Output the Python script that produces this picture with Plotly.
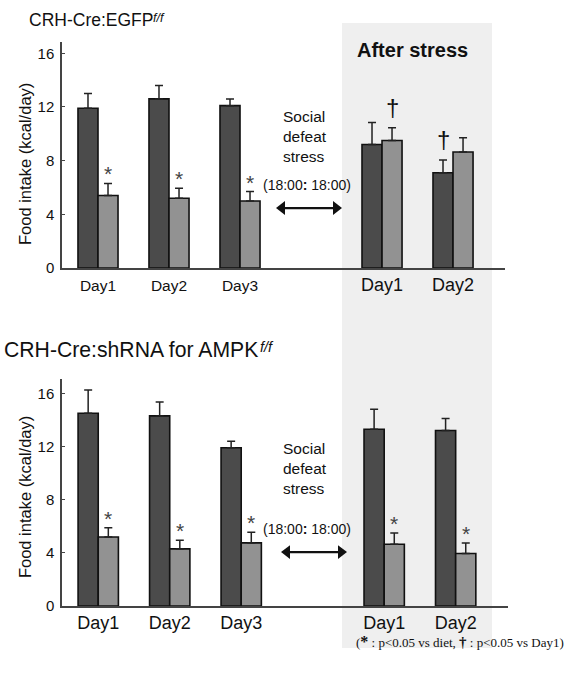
import plotly.graph_objects as go

W, H = 568, 676
VK = 0.988   # vertical calibration of the page renderer

# ---------------- data ----------------
day_labels = ["Day1", "Day2", "Day3", "Day1", "Day2"]
slots = [0, 1, 2, 4, 5]          # slot 3 = social defeat stress period (no bars)

egfp_diet = [11.9, 12.6, 12.1, 9.2, 7.1]
egfp_diet_err = [1.1, 1.0, 0.5, 1.65, 0.95]
egfp_hfd = [5.4, 5.2, 5.0, 9.5, 8.65]
egfp_hfd_err = [0.9, 0.75, 0.7, 0.95, 1.05]
egfp_diet_mark = ["", "", "", "", "†"]
egfp_hfd_mark = ["*", "*", "*", "†", ""]

ampk_diet = [14.5, 14.3, 11.9, 13.3, 13.2]
ampk_diet_err = [1.75, 1.05, 0.5, 1.5, 0.9]
ampk_hfd = [5.2, 4.3, 4.75, 4.65, 3.95]
ampk_hfd_err = [0.7, 0.65, 0.8, 0.85, 0.8]
ampk_diet_mark = ["", "", "", "", ""]
ampk_hfd_mark = ["*", "*", "*", "*", "*"]

y_ticks = [0, 4, 8, 12, 16]

DARK = "#4b4b4b"
LIGHT = "#929292"
FONT = "Liberation Sans"


def px(x):
    return x / W


def py(y):
    return 1 - (y / VK) / H


fig = go.Figure()

BW = 0.282
panels = [
    ("x", "y", egfp_diet, egfp_diet_err, egfp_hfd, egfp_hfd_err, egfp_diet_mark, egfp_hfd_mark),
    ("x2", "y2", ampk_diet, ampk_diet_err, ampk_hfd, ampk_hfd_err, ampk_diet_mark, ampk_hfd_mark),
]

annotations = []
for xa, ya, d, de, h, he, dm, hm in panels:
    for vals, errs, col, off, marks, shift in [
        (d, de, DARK, -BW, dm, -10),
        (h, he, LIGHT, 0, hm, 10),
    ]:
        fig.add_trace(go.Bar(
            x=slots, y=vals, width=BW, offset=off, xaxis=xa, yaxis=ya,
            marker=dict(color=col, line=dict(color="#111111", width=1.6)),
            error_y=dict(type="data", array=errs, arrayminus=[0] * len(errs),
                         symmetric=False, color="#222222", thickness=1.5, width=4),
            showlegend=False, hoverinfo="skip",
        ))
        for s, v, e, m in zip(slots, vals, errs, marks):
            if m:
                star = m == "*"
                annotations.append(dict(
                    x=s, y=v + e, xref=xa, yref=ya, xshift=shift,
                    yshift=-4 if star else 5, yanchor="bottom", text=m, showarrow=False,
                    font=dict(family=FONT, size=21 if star else 24,
                              color="#444444" if star else "#111111"),
                ))

# top panel: pre-stress day labels are set smaller/condensed in the original figure
top_ticktext = [f"<span style='font-size:15.5px'>{t}</span>" if i < 3 else t
                for i, t in enumerate(day_labels)]

xaxis_common = dict(
    range=[-0.507, 5.732], tickmode="array", tickvals=slots,
    showline=True, linecolor="#444444", linewidth=1.5, ticks="",
    showgrid=False, zeroline=False,
)
yaxis_common = dict(
    tickmode="array", tickvals=y_ticks, showline=True, linecolor="#444444",
    linewidth=1.5, ticks="inside", ticklen=3, tickcolor="#444444",
    showgrid=False, zeroline=False, ticklabelstandoff=3,
    tickfont=dict(family=FONT, size=15, color="#111111"),
)

fig.update_layout(
    width=W, height=H, margin=dict(l=0, r=0, t=0, b=0),
    paper_bgcolor="white", plot_bgcolor="rgba(0,0,0,0)",
    xaxis=dict(domain=[px(62), px(505)], anchor="y", ticktext=top_ticktext,
               tickfont=dict(family=FONT, size=18, color="#111111"), **xaxis_common),
    yaxis=dict(domain=[py(268), py(42)], range=[0, 16.84], anchor="x", **yaxis_common),
    xaxis2=dict(domain=[px(62), px(508)], anchor="y2", ticktext=day_labels,
                tickfont=dict(family=FONT, size=18, color="#111111"), **xaxis_common),
    yaxis2=dict(domain=[py(606), py(379)], range=[0, 17.07], anchor="x2", **yaxis_common),
    # overlay axes in pixel units for the double-headed arrows
    xaxis3=dict(domain=[0, 1], range=[0, W], visible=False, fixedrange=True),
    yaxis3=dict(domain=[0, 1], range=[H * VK, 0], visible=False, fixedrange=True, anchor="x3"),
    shapes=[dict(type="rect", xref="paper", yref="paper",
                 x0=px(342), x1=px(492), y0=py(648), y1=py(23),
                 fillcolor="#efefef", line=dict(width=0), layer="below")],
)

# double-headed arrows (social defeat stress period)
for yarr, xa0, xa1 in [(208, 276, 342), (552, 281, 347)]:
    fig.add_trace(go.Scatter(
        x=[xa0 + 5, xa1 - 5], y=[yarr, yarr], xaxis="x3", yaxis="y3", mode="lines",
        line=dict(color="#111111", width=2.2), showlegend=False, hoverinfo="skip"))
    fig.add_trace(go.Scatter(
        x=[xa0 + 6, xa1 - 6], y=[yarr, yarr], xaxis="x3", yaxis="y3", mode="markers",
        marker=dict(symbol=["triangle-left", "triangle-right"], size=12, color="#111111",
                    line=dict(width=0)),
        showlegend=False, hoverinfo="skip"))

# titles and texts
annotations += [
    dict(x=px(28), y=py(20), xref="paper", yref="paper", xanchor="left", yanchor="middle",
         text="CRH-Cre:EGFP", showarrow=False, borderpad=0,
         font=dict(family=FONT, size=17.5, color="#111111")),
    dict(x=px(152), y=py(18), xref="paper", yref="paper", xanchor="left", yanchor="middle",
         text="<i>f/f</i>", showarrow=False, borderpad=0,
         font=dict(family=FONT, size=12.5, color="#111111")),
    dict(x=px(3), y=py(349), xref="paper", yref="paper", xanchor="left", yanchor="middle",
         text="CRH-Cre:shRNA for AMPK", showarrow=False, borderpad=0,
         font=dict(family=FONT, size=21.2, color="#111111")),
    dict(x=px(259), y=py(347), xref="paper", yref="paper", xanchor="left", yanchor="middle",
         text="<i>f/f</i>", showarrow=False, borderpad=0,
         font=dict(family=FONT, size=14.5, color="#111111")),
    dict(x=px(412), y=py(50), xref="paper", yref="paper", xanchor="center", yanchor="middle",
         text="<b>After stress</b>", showarrow=False,
         font=dict(family=FONT, size=20, color="#111111")),
]
for yc in [164, 497]:
    annotations.append(dict(x=px(25), y=py(yc), xref="paper", yref="paper", xanchor="center",
                            yanchor="middle", text="Food intake (kcal/day)", textangle=-90,
                            showarrow=False, font=dict(family=FONT, size=16.5, color="#111111")))

for ysoc, ytime in [(136, 185), (468, 529)]:
    annotations.append(dict(x=px(281), y=py(ysoc), xref="paper", yref="paper", xanchor="left",
                            yanchor="middle", align="left",
                            text="Social<br>defeat<br>stress", showarrow=False,
                            font=dict(family=FONT, size=15.5, color="#111111")))
    annotations.append(dict(x=px(307), y=py(ytime), xref="paper", yref="paper", xanchor="center",
                            yanchor="middle", text="(18:00<b>:</b> 18:00)", showarrow=False,
                            font=dict(family=FONT, size=14, color="#111111")))

annotations.append(dict(x=px(355), y=py(641), xref="paper", yref="paper", xanchor="left",
                        yanchor="middle", borderpad=0,
                        text="(<b><span style='font-size:16px'>*</span></b> : p&lt;0.05 vs diet, "
                             "<b><span style='font-size:15px'>†</span></b> : p&lt;0.05 vs Day1)",
                        showarrow=False,
                        font=dict(family="Liberation Serif", size=13, color="#111111")))

fig.update_layout(annotations=annotations)
fig.write_html("out.html", config={"displayModeBar": False},
               post_script="document.body.style.margin='0';document.body.style.overflow='hidden';")
